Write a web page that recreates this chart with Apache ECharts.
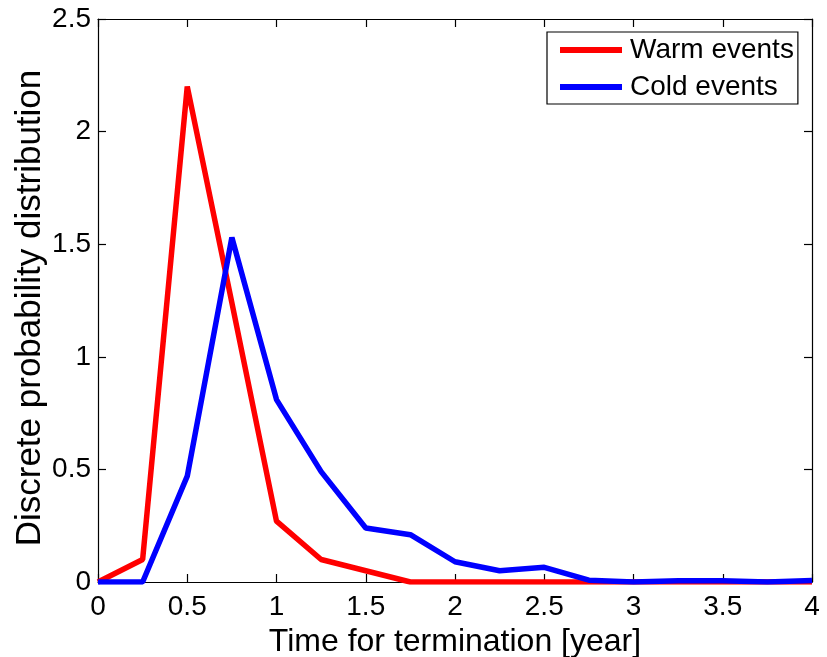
<!DOCTYPE html>
<html>
<head>
<meta charset="utf-8">
<script src="https://cdn.jsdelivr.net/npm/echarts@6/dist/echarts.min.js"></script>
<style>html,body{margin:0;padding:0;background:#fff}#c{width:827px;height:657px}</style>
</head>
<body>
<div id="c"></div>
<script>
var times = [0, 0.25, 0.5, 0.75, 1, 1.25, 1.5, 1.75, 2, 2.25, 2.5, 2.75, 3, 3.25, 3.5, 3.75, 4];
var warmEvents = [0, 0.1, 2.2, 1.24, 0.27, 0.1, 0.05, 0, 0, 0, 0, 0, 0, 0, 0, 0, 0];
var coldEvents = [0, 0, 0.47, 1.53, 0.81, 0.49, 0.24, 0.21, 0.09, 0.05, 0.065, 0.008, 0, 0.005, 0.005, 0, 0.007];
var xTicks = ['0', '0.5', '1', '1.5', '2', '2.5', '3', '3.5', '4'];
var yTicks = ['0', '0.5', '1', '1.5', '2', '2.5'];
var xName = 'Time for termination [year]';
var yName = 'Discrete probability distribution';

function pairs(xs, ys) { return xs.map(function (x, i) { return [x, ys[i]]; }); }
var font = 'Liberation Sans, Arial, Helvetica, sans-serif';
var chart = echarts.init(document.getElementById('c'));
var axisCommon = {
  type: 'value',
  axisLine: { show: true, onZero: false, lineStyle: { color: '#000', width: 1.2 } },
  axisTick: { show: true, inside: true, length: 8, lineStyle: { color: '#000', width: 1.2 } },
  splitLine: { show: false }
};
chart.setOption({
  animation: false,
  backgroundColor: '#fff',
  grid: { left: 98, right: 15, top: 19, bottom: 75, show: false, containLabel: false, outerBoundsMode: 'none' },
  legend: {
    left: 547, top: 32,
    orient: 'vertical',
    backgroundColor: '#fff',
    borderColor: '#000', borderWidth: 1.2,
    padding: [4, 4, 3, 13],
    itemGap: 9,
    itemWidth: 62, itemHeight: 6,
    icon: 'rect',
    textStyle: { fontFamily: font, fontSize: 28, color: '#000', padding: [0, 0, 0, 3] },
    data: ['Warm events', 'Cold events']
  },
  graphic: [{
    type: 'text', x: 30, y: 308, rotation: Math.PI / 2,
    style: { text: yName, fontFamily: font, fontSize: 35, fill: '#000', align: 'center', verticalAlign: 'middle' }
  }],
  xAxis: [
    Object.assign({}, axisCommon, {
      min: 0, max: 4, interval: 0.5, position: 'bottom',
      name: xName, nameLocation: 'middle', nameGap: 39,
      nameTextStyle: { fontFamily: font, fontSize: 32, color: '#000' },
      axisLabel: { fontFamily: font, fontSize: 28, color: '#000', margin: 11,
        formatter: function (v) { return xTicks[Math.round(v * 2)]; } }
    }),
    Object.assign({}, axisCommon, {
      min: 0, max: 4, interval: 0.5, position: 'top', axisLabel: { show: false }
    })
  ],
  yAxis: [
    Object.assign({}, axisCommon, {
      min: 0, max: 2.5, interval: 0.5, position: 'left',
      axisLabel: { fontFamily: font, fontSize: 28, color: '#000', margin: 7,
        formatter: function (v) { return yTicks[Math.round(v * 2)]; } }
    }),
    Object.assign({}, axisCommon, {
      min: 0, max: 2.5, interval: 0.5, position: 'right', axisLabel: { show: false }
    })
  ],
  series: [
    { name: 'Warm events', type: 'line', data: pairs(times, warmEvents), showSymbol: false,
      itemStyle: { color: '#ff0000' }, lineStyle: { color: '#ff0000', width: 5.5 }, z: 2 },
    { name: 'Cold events', type: 'line', data: pairs(times, coldEvents), showSymbol: false,
      itemStyle: { color: '#0000ff' }, lineStyle: { color: '#0000ff', width: 5.5 }, z: 3 }
  ]
});
</script>
</body>
</html>
